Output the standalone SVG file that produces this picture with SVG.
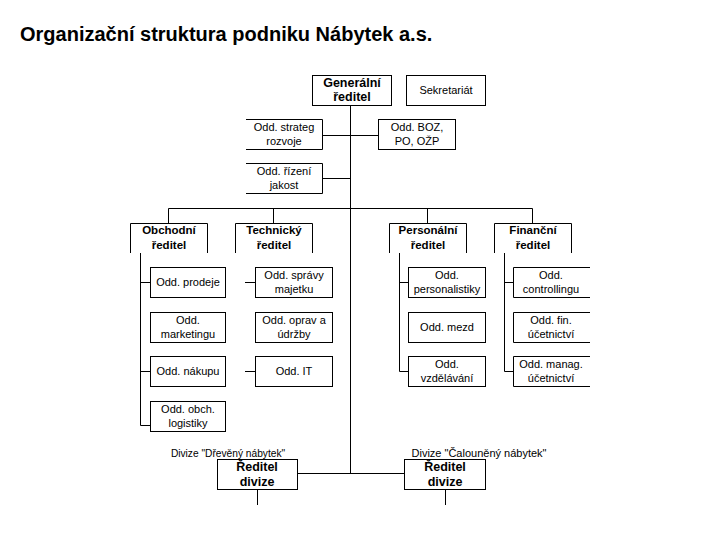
<svg xmlns="http://www.w3.org/2000/svg" width="720" height="540" viewBox="0 0 720 540">
<style>
.b{fill:#fff;stroke:#000;stroke-width:1}
.o{fill:none;stroke:#000;stroke-width:1}
.t{font-family:"Liberation Sans",Arial,sans-serif;font-size:11px;fill:#000;text-anchor:middle}
.tb{font-family:"Liberation Sans",Arial,sans-serif;font-size:11.5px;font-weight:bold;fill:#000;text-anchor:middle}
.tB{font-family:"Liberation Sans",Arial,sans-serif;font-size:12.5px;font-weight:bold;fill:#000;text-anchor:middle}
.l{fill:none;stroke:#000;stroke-width:1}
</style>
<rect width="720" height="540" fill="#fff"/>
<text x="20" y="41" font-family="'Liberation Sans',Arial,sans-serif" font-size="20" font-weight="bold">Organizační struktura podniku Nábytek a.s.</text>

<g id="connectors">
<path class="l" d="M350.5 105V473M322 135.5H350.5M350.5 135.5H378M322 178.5H350.5"/>
<path class="l" d="M168.5 223V208.5H532.5V223M273.5 208.5V223M427.5 208.5V223"/>
<path class="l" d="M140.5 253V425.5H150M140.5 282.5H150M140.5 371.5H150"/>
<path class="l" d="M245 282.5H255M245 371.5H255"/>
<path class="l" d="M399.5 253V371.5H408M399.5 282.5H408"/>
<path class="l" d="M504.5 253V371.5H513M504.5 282.5H513"/>
<path class="l" d="M298 473.5H404M257.5 490V505M445.5 490V505"/>
</g>

<g id="gen"><rect class="b" x="312.5" y="75.5" width="79" height="30"/><text class="tB" x="352" y="87">Generální</text><text class="tB" x="352" y="101">ředitel</text></g>
<g id="sekr"><rect class="b" x="406.5" y="75.5" width="79" height="30"/><text class="t" x="446" y="94">Sekretariát</text></g>
<g id="strateg"><path class="o" d="M246 119.5H322.5V149.5H246"/><text class="t" x="284" y="131">Odd. strateg</text><text class="t" x="284" y="145">rozvoje</text></g>
<g id="boz"><rect class="b" x="378.5" y="119.5" width="77" height="30"/><text class="t" x="417" y="131">Odd. BOZ,</text><text class="t" x="417" y="145">PO, OŽP</text></g>
<g id="jakost"><path class="o" d="M246 163.5H322.5V193.5H246"/><text class="t" x="284" y="175">Odd. řízení</text><text class="t" x="284" y="189">jakost</text></g>

<g id="obch"><path class="o" d="M130.5 253V223.5H207.5V253"/><text class="tb" x="169" y="234">Obchodní</text><text class="tb" x="169" y="249">ředitel</text></g>
<g id="tech"><path class="o" d="M235.5 253V223.5H312.5V253"/><text class="tb" x="274" y="234">Technický</text><text class="tb" x="274" y="249">ředitel</text></g>
<g id="pers"><path class="o" d="M389.5 253V223.5H466.5V253"/><text class="tb" x="428" y="234">Personální</text><text class="tb" x="428" y="249">ředitel</text></g>
<g id="fin"><path class="o" d="M494.5 253V223.5H571.5V253"/><text class="tb" x="533" y="234">Finanční</text><text class="tb" x="533" y="249">ředitel</text></g>

<g id="prodeje"><rect class="b" x="150.5" y="267.5" width="75" height="30"/><text class="t" x="188" y="286">Odd. prodeje</text></g>
<g id="marketing"><rect class="b" x="150.5" y="312.5" width="75" height="30"/><text class="t" x="188" y="324">Odd.</text><text class="t" x="188" y="338">marketingu</text></g>
<g id="nakup"><rect class="b" x="150.5" y="356.5" width="75" height="30"/><text class="t" x="188" y="375">Odd. nákupu</text></g>
<g id="logistika"><rect class="b" x="150.5" y="401.5" width="75" height="30"/><text class="t" x="188" y="413">Odd. obch.</text><text class="t" x="188" y="427">logistiky</text></g>

<g id="spravy"><rect class="b" x="255.5" y="267.5" width="77" height="30"/><text class="t" x="294" y="279">Odd. správy</text><text class="t" x="294" y="293">majetku</text></g>
<g id="opravy"><rect class="b" x="255.5" y="312.5" width="77" height="30"/><text class="t" x="294" y="324">Odd. oprav a</text><text class="t" x="294" y="338">údržby</text></g>
<g id="it"><rect class="b" x="255.5" y="356.5" width="77" height="30"/><text class="t" x="294" y="375">Odd. IT</text></g>

<g id="personalistika"><rect class="b" x="408.5" y="267.5" width="77" height="30"/><text class="t" x="447" y="279">Odd.</text><text class="t" x="447" y="293">personalistiky</text></g>
<g id="mzdy"><rect class="b" x="408.5" y="312.5" width="77" height="30"/><text class="t" x="447" y="331">Odd. mezd</text></g>
<g id="vzdelavani"><rect class="b" x="408.5" y="356.5" width="77" height="30"/><text class="t" x="447" y="368">Odd.</text><text class="t" x="447" y="382">vzdělávání</text></g>

<g id="controlling"><path class="o" d="M590 267.5H513.5V297.5H590"/><text class="t" x="551" y="279">Odd.</text><text class="t" x="551" y="293">controllingu</text></g>
<g id="finucet"><path class="o" d="M590 312.5H513.5V342.5H590"/><text class="t" x="551" y="324">Odd. fin.</text><text class="t" x="551" y="338">účetnictví</text></g>
<g id="managucet"><path class="o" d="M590 356.5H513.5V386.5H590"/><text class="t" x="551" y="368">Odd. manag.</text><text class="t" x="551" y="382">účetnictví</text></g>

<g id="div1"><text class="t" x="228" y="457" style="font-size:10.2px">Divize "Dřevěný nábytek"</text><rect class="b" x="217.5" y="459.5" width="80" height="30"/><text class="tB" x="257" y="471">Ředitel</text><text class="tB" x="257" y="486">divize</text></g>
<g id="div2"><text class="t" x="479" y="457">Divize "Čalouněný nábytek"</text><rect class="b" x="404.5" y="459.5" width="81" height="30"/><text class="tB" x="445" y="471">Ředitel</text><text class="tB" x="445" y="486">divize</text></g>
</svg>
